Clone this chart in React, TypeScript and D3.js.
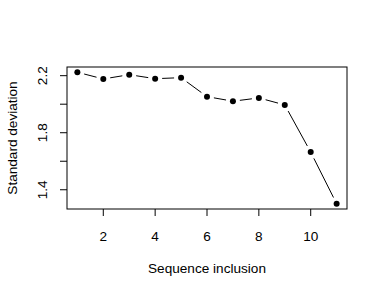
import React from "react";
import * as d3 from "d3";

const seqIndex = [1, 2, 3, 4, 5, 6, 7, 8, 9, 10, 11];
const stdDev = [2.224, 2.177, 2.207, 2.179, 2.186, 2.053, 2.021, 2.044, 1.995, 1.664, 1.302];
const xTicks = [2, 4, 6, 8, 10];
const yTicks = [1.4, 1.6, 1.8, 2.0, 2.2];
const yLabelTicks = [1.4, 1.8, 2.2];

const W = 382;
const H = 294;
const left = 67, right = 347, top = 67, bottom = 209;
const font = "'Liberation Sans', Arial, sans-serif";
const fs = 13.6;

export default function App() {
  // R style 4% padding on both axes
  const xExt = d3.extent(seqIndex) as [number, number];
  const yExt = d3.extent(stdDev) as [number, number];
  const xPad = (xExt[1] - xExt[0]) * 0.04;
  const yPad = (yExt[1] - yExt[0]) * 0.04;
  const x = d3.scaleLinear().domain([xExt[0] - xPad, xExt[1] + xPad]).range([left, right]);
  const y = d3.scaleLinear().domain([yExt[0] - yPad, yExt[1] + yPad]).range([bottom, top]);

  const pts = seqIndex.map((s, i) => [x(s), y(stdDev[i])] as [number, number]);
  const gap = 7;
  // type = "b": segments broken around the points
  const segs = pts.slice(1).map((p, i) => {
    const a = pts[i];
    const dx = p[0] - a[0], dy = p[1] - a[1];
    const len = Math.hypot(dx, dy);
    if (len <= 2 * gap) return null;
    const ux = dx / len, uy = dy / len;
    return [a[0] + ux * gap, a[1] + uy * gap, p[0] - ux * gap, p[1] - uy * gap];
  });

  return (
    <svg width={W} height={H} style={{ position: "absolute", left: 0, top: 0 }}>
      <rect x={0} y={0} width={W} height={H} fill="#fff" />
      <rect x={left} y={top} width={right - left} height={bottom - top} fill="none" stroke="#000" strokeWidth={1} />
      {segs.map((s, i) =>
        s ? <line key={i} x1={s[0]} y1={s[1]} x2={s[2]} y2={s[3]} stroke="#000" strokeWidth={1} /> : null
      )}
      {pts.map((p, i) => (
        <circle key={i} cx={p[0]} cy={p[1]} r={3} fill="#000" />
      ))}
      {xTicks.map((t) => (
        <g key={t}>
          <line x1={x(t)} x2={x(t)} y1={bottom} y2={bottom + 7} stroke="#000" />
          <text x={x(t)} y={bottom + 32} textAnchor="middle" fontFamily={font} fontSize={fs}>{t}</text>
        </g>
      ))}
      {yTicks.map((t) => (
        <line key={t} x1={left - 7} x2={left} y1={y(t)} y2={y(t)} stroke="#000" />
      ))}
      {yLabelTicks.map((t) => (
        <text key={t} transform={`translate(${left - 20},${y(t)}) rotate(-90)`} textAnchor="middle"
          fontFamily={font} fontSize={fs}>{t.toFixed(1)}</text>
      ))}
      <text x={(left + right) / 2} y={273} textAnchor="middle" fontFamily={font} fontSize={fs}>Sequence inclusion</text>
      <text transform={`translate(17,${(top + bottom) / 2}) rotate(-90)`} textAnchor="middle"
        fontFamily={font} fontSize={fs}>Standard deviation</text>
    </svg>
  );
}
